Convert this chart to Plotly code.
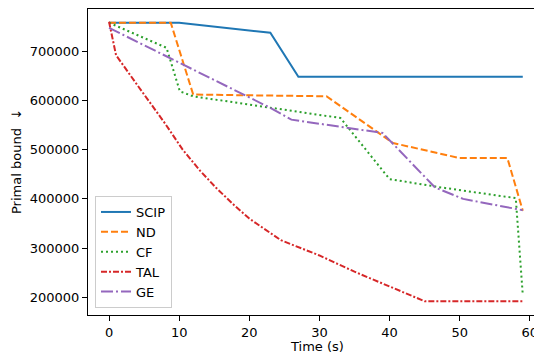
import plotly.graph_objects as go

# ---- data ----
scip_t = [0, 10, 23, 27, 59]
scip_v = [758000, 758000, 737500, 648000, 648000]

nd_t = [0, 8.8, 12, 31, 40.5, 50, 56.8, 59]
nd_v = [758000, 758000, 612000, 608500, 513500, 483000, 483000, 376000]

cf_t = [0, 8.2, 10.1, 12, 33, 40, 47, 55.2, 58, 59]
cf_v = [758000, 707000, 618600, 608400, 564400, 440200, 424000, 408300, 401500, 204700]

tal_t = [0, 1, 4, 8, 10.5, 13, 15.3, 18, 20, 22, 24.5, 30, 35, 40, 43.5, 45, 59]
tal_v = [760000, 692000, 632000, 553000, 500000, 457000, 422000, 385000, 360000, 340000,
         316000, 285000, 252000, 222000, 200000, 192000, 192000]

ge_t = [0, 23, 26, 39, 46.5, 50.5, 59]
ge_v = [747600, 585000, 561000, 534000, 423000, 400000, 377000]

names = ["SCIP", "ND", "CF", "TAL", "GE"]
colors = ["#1f77b4", "#ff7f0e", "#2ca02c", "#d62728", "#9467bd"]
dashes = ["solid", "7px,3px", "2px,3px", "6px,2px,2px,2px", "12px,3px,2px,3px"]
series = [(scip_t, scip_v), (nd_t, nd_v), (cf_t, cf_v), (tal_t, tal_v), (ge_t, ge_v)]

x_ticks = [0, 10, 20, 30, 40, 50, 60]
y_ticks = [200000, 300000, 400000, 500000, 600000, 700000]

FONT = "DejaVu Sans"

fig = go.Figure()
for (t, v), n, c, d in zip(series, names, colors, dashes):
    fig.add_trace(go.Scatter(x=t, y=v, name=n, mode="lines",
                             line=dict(color=c, width=2, dash=d)))

W, H = 534, 356
L, R, T, B = 88, 0, 9, 41
pw = W - L - R
ph = H - T - B

fig.update_layout(
    width=W, height=H,
    margin=dict(l=L, r=R, t=T, b=B, pad=0, autoexpand=False),
    paper_bgcolor="white", plot_bgcolor="white",
    font=dict(family=FONT, size=13, color="black"),
    showlegend=True,
    legend=dict(
        x=(95 - L) / pw, y=(315 - 308) / ph, xanchor="left", yanchor="bottom",
        bgcolor="rgba(255,255,255,0.8)", bordercolor="#cccccc", borderwidth=1,
        font=dict(family=FONT, size=13, color="black"),
        itemwidth=30, tracegroupgap=0,
    ),
    xaxis=dict(
        range=[-3.0, 60.6], tickvals=x_ticks, ticktext=[str(v) for v in x_ticks],
        showgrid=False, zeroline=False, showline=True, linecolor="black", linewidth=1,
        mirror=True, ticks="outside", ticklen=5, tickwidth=1, tickcolor="black",
        ticklabeloverflow="allow", automargin=False,
        tickfont=dict(family=FONT, size=13, color="black"),
    ),
    yaxis=dict(
        range=[164000, 785900], tickvals=y_ticks, ticktext=[str(v) for v in y_ticks],
        showgrid=False, zeroline=False, showline=True, linecolor="black", linewidth=1,
        ticks="outside", ticklen=5, tickwidth=1, tickcolor="black", automargin=False,
        tickfont=dict(family=FONT, size=13, color="black"),
    ),
    annotations=[
        dict(text="Time (s)", xref="paper", yref="paper",
             x=(316.7 - L) / pw, y=(315 - 346.7) / ph, xanchor="center", yanchor="middle",
             showarrow=False, font=dict(family=FONT, size=13, color="black")),
        dict(text="Primal bound \u00a0\u2193", xref="paper", yref="paper",
             x=(16 - L) / pw, y=0.5, xanchor="center", yanchor="middle", textangle=-90,
             showarrow=False, font=dict(family=FONT, size=13, color="black")),
    ],
)

fig.write_html("out.html",
               config={"displayModeBar": False},
               post_script="document.body.style.margin='0';document.body.style.overflow='hidden';")
